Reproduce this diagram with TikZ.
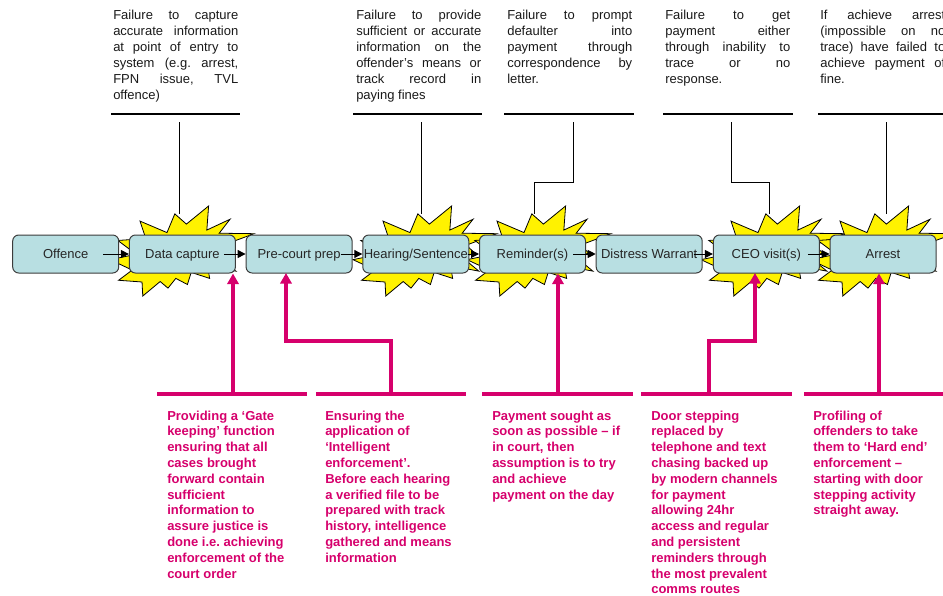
\documentclass[tikz,border=0pt]{standalone}
\usepackage{fontspec}
\setmainfont{Liberation Sans}
\usetikzlibrary{arrows.meta}
\definecolor{boxfill}{RGB}{184,223,226}
\definecolor{pinkred}{RGB}{214,0,108}
\definecolor{boxline}{RGB}{60,60,60}
\tikzset{
  stage/.style={draw=boxline, line width=0.75pt, fill=boxfill, rounded corners=4.5pt,
    minimum width=79.5pt, minimum height=28.5pt, inner sep=0pt, text height=7.2pt, text depth=0pt,
    font=\fontsize{9.75}{12}\selectfont, text=black!85},
  flow/.style={-{Triangle[length=6pt,width=6pt]}, line width=0.75pt},
  issue/.style={anchor=north west, inner sep=0pt, text width=93.75pt, align=justify,
    font=\fontsize{9.75}{12}\selectfont, text=black!90},
  rulel/.style={line width=0.8pt},
  lead/.style={line width=0.75pt},
  remedy/.style={anchor=north west, inner sep=0pt, align=left,
    font=\fontsize{9.75}{11.85}\selectfont\bfseries, text=pinkred},
  bar/.style={draw=pinkred, line width=2.6pt},
  push/.style={draw=pinkred, line width=2.6pt, -{Triangle[length=8pt,width=8.5pt]}},
  burststyle/.style={fill=yellow, draw=black, line width=0.6pt, line join=miter},
  burst/.pic={
    \draw[burststyle, xscale=0.66667, yscale=0.41667]
      (114.62,43.42) -- (147.90,0) -- (145.25,57.77) -- (180.07,31.72) -- (163.80,65.32)
      -- (216,66.45) -- (169.85,94.02) -- (182.70,112.90) -- (163.80,123.10)
      -- (188.77,156.32) -- (146.40,143.50) -- (149.42,173.70) -- (121.80,159.35)
      -- (116.12,188.42) -- (98.72,173.70) -- (87.00,197.12) -- (75.27,181.25)
      -- (49.17,216) -- (48.05,182.40) -- (12.85,178.25) -- (33.30,153.70)
      -- (0,128.77) -- (39.35,115.92) -- (11.72,82.70) -- (53.72,78.17)
      -- (45.02,36.25) -- (85.50,63.82) -- (97.22,18.87) -- cycle;
  }
}
\begin{document}
\frenchspacing
\begin{tikzpicture}[x=0.75pt,y=-0.75pt]
\useasboundingbox (0,0) rectangle (943,596);
\clip (0,0) rectangle (943,596);

% top issue texts
\node[issue] (i1) at (113,7.8) {\strut Failure to capture\linebreak accurate information\linebreak at point of entry to\linebreak system (e.g. arrest,\linebreak FPN issue, TVL\linebreak offence)};
\node[issue] (i2) at (356,7.8) {\strut Failure to provide\linebreak sufficient or accurate\linebreak information on the\linebreak offender’s means or\linebreak track record in\linebreak paying fines};
\node[issue] (i3) at (507,7.8) {\strut Failure to prompt\linebreak defaulter into\linebreak payment through\linebreak correspondence by\linebreak letter.};
\node[issue] (i4) at (665,7.8) {\strut Failure to get\linebreak payment either\linebreak through inability to\linebreak trace or no\linebreak response.};
\node[issue] (i5) at (820,7.8) {\strut If achieve arrest\linebreak (impossible on no\linebreak trace) have failed to\linebreak achieve payment of\linebreak fine.};

% rules under issue texts
\draw[rulel] (111,114) -- (240,114);
\draw[rulel] (353,114) -- (482,114);
\draw[rulel] (504,114) -- (634,114);
\draw[rulel] (663,114) -- (793,114);
\draw[rulel] (818,114) -- (950,114);

% lead lines
\coordinate (t1) at (179,122); \coordinate (s1) at (179,214);
\coordinate (t2) at (421,122); \coordinate (s2) at (421,214);
\coordinate (t3) at (573,122); \coordinate (s3) at (534,214);
\coordinate (t4) at (731,122); \coordinate (s4) at (769,214);
\coordinate (t5) at (886,122); \coordinate (s5) at (886,214);
\draw[lead] (t1) -- (s1);
\draw[lead] (t2) -- (s2);
\draw[lead] (t3) -- ++(0,60) -| (s3);
\draw[lead] (t4) -- ++(0,60) -| (s4);
\draw[lead] (t5) -- (s5);

% bursts
\pic at (110,206) {burst};
\pic at (353,206) {burst};
\pic at (467,206) {burst};
\pic at (701,206) {burst};
\pic at (810,206) {burst};

% stages
\node[stage] (of) at (65.7,254) {Offence};
\node[stage] (dc) at (182.4,254) {Data capture};
\node[stage] (pc) at (299.1,254) {Pre-court prep};
\node[stage] (hs) at (415.8,254) {Hearing/Sentence};
\node[stage] (rm) at (532.5,254) {Reminder(s)};
\node[stage] (dw) at (649.2,254) {Distress Warrant};
\node[stage] (cv) at (766.4,254) {CEO visit(s)};
\node[stage] (ar) at (883,254) {Arrest};

\draw[flow] ([xshift=-12pt]of.east) -- (dc.west);
\draw[flow] ([xshift=-9pt]dc.east) -- (pc.west);
\draw[flow] ([xshift=-9pt]pc.east) -- (hs.west);
\draw[flow] ([xshift=-1pt]hs.east) -- (rm.west);
\draw[flow] ([xshift=-9.75pt]rm.east) -- (dw.west);
\draw[flow] ([xshift=-6.75pt]dw.east) -- (cv.west);
\draw[flow] ([xshift=-9pt]cv.east) -- (ar.west);

% bottom remedies
\node[remedy] (r1) at (167,408.8) {\strut Providing a ‘Gate\\keeping’ function\\ensuring that all\\cases brought\\forward contain\\sufficient\\information to\\assure justice is\\done i.e. achieving\\enforcement of the\\court order};
\node[remedy] (r2) at (325,408.8) {\strut Ensuring the\\application of\\‘Intelligent\\enforcement’.\\Before each hearing\\a verified file to be\\prepared with track\\history, intelligence\\gathered and means\\information};
\node[remedy] (r3) at (492,408.8) {\strut Payment sought as\\soon as possible – if\\in court, then\\assumption is to try\\and achieve\\payment on the day};
\node[remedy] (r4) at (651,408.8) {\strut Door stepping\\replaced by\\telephone and text\\chasing backed up\\by modern channels\\for payment\\allowing 24hr\\access and regular\\and persistent\\reminders through\\the most prevalent\\comms routes};
\node[remedy] (r5) at (813,408.8) {\strut Profiling of\\offenders to take\\them to ‘Hard end’\\enforcement –\\starting with door\\stepping activity\\straight away.};

% magenta bars
\draw[bar] (157,394) -- (307,394);
\draw[bar] (316,394) -- (466,394);
\draw[bar] (482,394) -- (633,394);
\draw[bar] (641,394) -- (792,394);
\draw[bar] (804,394) -- (960,394);

\coordinate (j1) at (233,394);
\coordinate (j2) at (391,394); \coordinate (e2) at (286,273);
\coordinate (j3) at (558,394);
\coordinate (j4) at (709,394); \coordinate (e4) at (755,273);
\coordinate (j5) at (879,394);
\draw[push] (j1) -- (j1 |- dc.south);
\draw[push] (j2) -- ++(0,-53) -| (e2);
\draw[push] (j3) -- (j3 |- rm.south);
\draw[push] (j4) -- ++(0,-53) -| (e4);
\draw[push] (j5) -- (j5 |- ar.south);
\end{tikzpicture}
\end{document}
